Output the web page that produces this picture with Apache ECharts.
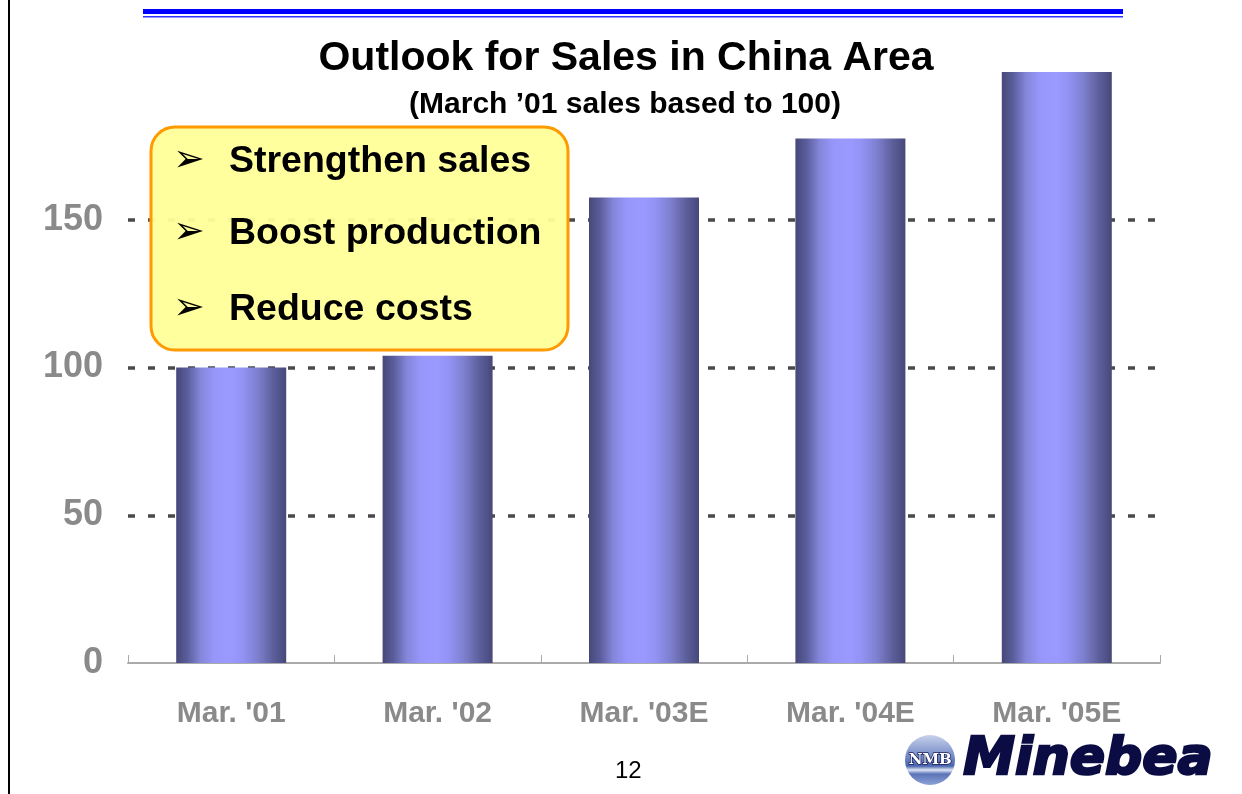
<!DOCTYPE html>
<html>
<head>
<meta charset="utf-8">
<title>Outlook for Sales in China Area</title>
<script src="https://cdn.jsdelivr.net/npm/echarts@6/dist/echarts.min.js"></script>
<style>
  html, body { margin: 0; padding: 0; background: #ffffff; }
  #chart { width: 1242px; height: 794px; }
</style>
</head>
<body>
<div id="chart"></div>
<script>
// Sales index, March 2001 = 100
const categories = ["Mar. '01", "Mar. '02", "Mar. '03E", "Mar. '04E", "Mar. '05E"];
const salesIndex = [100, 104, 157.5, 177.5, 200];
const yTicks = { min: 0, max: 200, step: 50 };
const bullets = ['Strengthen sales', 'Boost production', 'Reduce costs'];

const FONT = '"Liberation Sans", Arial, sans-serif';
const chart = echarts.init(document.getElementById('chart'), null, { renderer: 'canvas' });

// cylinder-like horizontal shading for each bar
const barShade = new echarts.graphic.LinearGradient(0, 0, 1, 0, [
  { offset: 0.00, color: '#46487a' },
  { offset: 0.10, color: '#5a5d9a' },
  { offset: 0.22, color: '#8486da' },
  { offset: 0.35, color: '#9797fb' },
  { offset: 0.50, color: '#9999ff' },
  { offset: 0.60, color: '#9393f5' },
  { offset: 0.75, color: '#7c7ecc' },
  { offset: 0.88, color: '#5d5f9c' },
  { offset: 1.00, color: '#46487a' }
]);

const bulletYs = [164, 236, 312];
const bulletTexts = [];
bullets.forEach((t, i) => {
  bulletTexts.push({
    type: 'text', left: 173, top: bulletYs[i] - 22, z: 12,
    style: { text: '\u27A2', fill: '#000', font: 'bold 38px "DejaVu Sans", sans-serif' }
  });
  bulletTexts.push({
    type: 'text', left: 229, top: bulletYs[i] - 21, z: 12,
    style: { text: t, fill: '#000', font: 'bold 37.5px ' + FONT }
  });
});

chart.setOption({
  animation: false,
  backgroundColor: '#ffffff',
  title: [
    {
      text: 'Outlook for Sales in China Area',
      left: 621, top: 33, textAlign: 'center',
      textStyle: { fontFamily: FONT, fontWeight: 'bold', fontSize: 41, color: '#000' }
    },
    {
      text: '(March \u201901 sales based to 100)',
      left: 620, top: 85, textAlign: 'center',
      textStyle: { fontFamily: FONT, fontWeight: 'bold', fontSize: 30, color: '#000' }
    }
  ],
  grid: { left: 128, right: 82, top: 72, bottom: 131, containLabel: false },
  xAxis: {
    type: 'category',
    data: categories,
    axisLine: { show: true, lineStyle: { color: '#aaaaaa', width: 2 } },
    axisTick: { show: true, inside: true, length: 8, lineStyle: { color: '#aaaaaa', width: 1 } },
    axisLabel: {
      margin: 36, fontFamily: FONT, fontWeight: 'bold', fontSize: 30, color: '#8a8a8a'
    },
    splitLine: { show: false }
  },
  yAxis: {
    type: 'value',
    min: yTicks.min, max: yTicks.max, interval: yTicks.step,
    axisLine: { show: false },
    axisTick: { show: false },
    axisLabel: {
      margin: 25, showMaxLabel: false,
      fontFamily: FONT, fontWeight: 'bold', fontSize: 36, color: '#8a8a8a'
    },
    splitLine: {
      show: true, showMinLine: false, showMaxLine: false,
      lineStyle: { color: '#4a4a4a', width: 3.5, type: [7, 13] }
    }
  },
  series: [{
    type: 'bar',
    data: salesIndex,
    barWidth: 110,
    itemStyle: { color: barShade },
    z: 3
  }],
  graphic: [
    // left page edge
    { type: 'rect', shape: { x: 8, y: 0, width: 2, height: 794 }, style: { fill: '#000' }, z: 20 },
    // double blue rule at the top
    { type: 'rect', shape: { x: 143, y: 9, width: 980, height: 5 }, style: { fill: '#0000ff' }, z: 20 },
    { type: 'rect', shape: { x: 143, y: 16, width: 980, height: 1.5 }, style: { fill: '#3030ff' }, z: 20 },
    // callout box
    {
      type: 'rect', z: 10,
      shape: { x: 151, y: 127, width: 417, height: 223, r: 24 },
      style: { fill: 'rgba(255,255,153,0.95)', stroke: '#ff9a00', lineWidth: 3 }
    },
    ...bulletTexts,
    // page number
    {
      type: 'text', left: 615, top: 759, z: 12,
      style: { text: '12', fill: '#000', font: '24px ' + FONT }
    },
    // company mark
    {
      type: 'circle', z: 12,
      shape: { cx: 930, cy: 760, r: 25 },
      style: {
        fill: new echarts.graphic.LinearGradient(0, 0, 0, 1, [
          { offset: 0, color: '#c8d2ec' },
          { offset: 0.45, color: '#6f86c4' },
          { offset: 0.62, color: '#4a64ae' },
          { offset: 0.7, color: '#dfe6f6' },
          { offset: 0.78, color: '#5a74b8' },
          { offset: 1, color: '#8ea2d6' }
        ])
      }
    },
    {
      type: 'text', z: 13, left: 908, top: 752,
      style: { text: 'NMB', fill: '#ffffff', stroke: '#1a1f5c', lineWidth: 1.5, font: 'bold 15px "DejaVu Serif", serif' }
    },
    {
      type: 'text', z: 12, left: 962, top: 733,
      style: {
        text: 'Minebea', fill: '#0c0c44', stroke: '#0c0c44', lineWidth: 2.5,
        font: 'italic bold 52px "DejaVu Sans", sans-serif'
      }
    }
  ]
});
</script>
</body>
</html>
